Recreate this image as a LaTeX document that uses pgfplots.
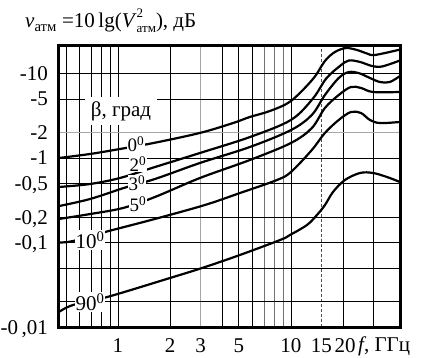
\documentclass[border=0pt]{standalone}
\usepackage{fontspec}
\setmainfont{Liberation Serif}
\usepackage{pgfplots}
\pgfplotsset{compat=1.18}
\begin{document}
\fontsize{21}{24}\selectfont
\begin{tikzpicture}
\begin{axis}[
  at={(0,0)}, anchor=south west,
  scale only axis, width=341pt, height=281pt,
  xmode=log, ymode=log,
  xmin=0.456, xmax=42.7, ymin=0.01, ymax=21.15,
  axis line style={line width=3pt},
  axis on top,
  tick style={draw=none},
  xtick={1,2,3,5,10,15,20}, xticklabels={1,2,3,5,10,{15\hspace{3pt}},{\hspace{4pt}20}},
  ytick={0.01,0.1,0.2,0.5,1,2,5,10},
  yticklabels={{-0\,,01},{-0,1},{-0,2},{-0,5},{-1},{-2},{-5},{-10}},
  xticklabel style={anchor=base, yshift=-25pt, inner sep=0pt},
  yticklabel style={anchor=base east, xshift=-4pt, yshift=-7pt},
  clip=true,
]
% grid lines
\pgfplotsinvokeforeach{0.5,0.6,0.7,0.8,0.9,1,2,4,5,6,10,20,30}{
  \draw[black, line width=0.8pt] (axis cs:#1,0.01) -- (axis cs:#1,21.15);
}
\pgfplotsinvokeforeach{7,8,9}{
  \draw[black!55, line width=0.8pt] (axis cs:#1,0.01) -- (axis cs:#1,21.15);
}
\draw[black!35, line width=0.8pt] (axis cs:3,0.01) -- (axis cs:3,21.15);
\draw[black!70, line width=0.6pt, dash pattern=on 3pt off 2pt] (axis cs:15,0.01) -- (axis cs:15,21.15);
\pgfplotsinvokeforeach{0.02,0.05,0.1,0.2,0.5,1,5,10}{
  \draw[black, line width=0.8pt] (axis cs:0.456,#1) -- (axis cs:42.7,#1);
}
\draw[black!35, line width=0.8pt] (axis cs:0.456,2) -- (axis cs:42.7,2);

% 0 deg
\addplot[black, line width=2.2pt, smooth, tension=0.55] coordinates {
(0.456,1.0) (0.689,1.115) (1.027,1.278) (1.593,1.50) (2.978,1.98) (4.62,2.59) (5.79,3.06) (7.56,3.60) (10.0,4.73) (13.4,8.61) (15.72,14.06) (17.96,17.96) (20.8,20.0) (24.1,18.97) (27.5,17.25) (30.6,16.56) (42.7,19.2)};
% 2 deg
\addplot[black, line width=2.2pt, smooth, tension=0.55] coordinates {
(0.456,0.454) (0.689,0.492) (1.027,0.580) (1.636,0.782) (2.978,1.146) (5.79,1.77) (10.0,2.82) (13.4,5.06) (16.0,8.73) (19.2,12.27) (21.6,14.25) (25.1,13.68) (29.4,12.27) (33.6,12.1) (42.7,14.25)};
% 3 deg
\addplot[black, line width=2.2pt, smooth, tension=0.55] coordinates {
(0.456,0.270) (0.689,0.327) (1.127,0.454) (1.636,0.564) (2.978,0.873) (5.79,1.35) (10.0,2.14) (13.2,3.23) (15.72,5.57) (18.9,8.85) (21.6,10.4) (24.7,10.1) (28.6,8.85) (32.7,7.93) (37.3,7.93) (42.7,9.34)};
% 5 deg
\addplot[black, line width=2.2pt, smooth, tension=0.55] coordinates {
(0.456,0.190) (0.689,0.217) (1.069,0.256) (1.636,0.3455) (2.978,0.580) (5.79,0.947) (10.0,1.505) (13.2,2.26) (15.72,3.91) (18.9,5.57) (22.2,6.92) (25.4,6.74) (29.8,6.04) (42.7,6.04)};
% 10 deg
\addplot[black, line width=2.2pt, smooth, tension=0.55] coordinates {
(0.456,0.100) (0.549,0.104) (0.841,0.133) (1.636,0.19) (3.184,0.278) (5.07,0.385) (8.30,0.549) (10.0,0.683) (13.2,1.243) (15.72,1.98) (18.9,2.82) (22.2,3.50) (25.4,3.41) (28.6,2.82) (32.7,2.59) (42.7,2.67)};
% 90 deg
\addplot[black, line width=2.2pt, smooth, tension=0.55] coordinates {
(0.456,0.0151) (0.549,0.0182) (0.864,0.0226) (1.998,0.038) (3.06,0.0499) (4.88,0.0692) (8.65,0.107) (9.87,0.1227) (12.37,0.161) (14.13,0.2115) (15.73,0.278) (17.5,0.396) (20.5,0.549) (25.1,0.665) (29.8,0.665) (35.9,0.596) (42.7,0.520)};
\end{axis}
% labels
\tikzset{clab/.style={fill=white, inner sep=0.8pt, text depth=0pt, font=\fontsize{19}{21}\selectfont}}
\node[fill=white, inner xsep=6pt, inner ysep=4pt] at (62pt,216pt) {β, град};
\node[clab] at (77pt,183pt) {0\textsuperscript{0}};
\node[clab] at (79pt,163pt) {2\textsuperscript{0}};
\node[clab] at (78pt,144pt) {3\textsuperscript{0}};
\node[clab] at (79pt,123pt) {5\textsuperscript{0}};
\node[fill=white, inner sep=1pt] at (31pt,87pt) {10\textsuperscript{0}};
\node[fill=white, inner sep=1pt] at (31pt,25pt) {90\textsuperscript{0}};
\node[anchor=base west, inner sep=0pt] at (299pt,-25pt) {\textit{f}, ГГц};
\node[anchor=base west, inner sep=0pt] at (-34pt,299pt) {\textit{v}\textsubscript{атм} =10\,lg(\textit{V}\rlap{\raisebox{0.52em}{\fontsize{13}{14}\selectfont 2}}\raisebox{-0.22em}{\fontsize{13}{14}\selectfont атм}), дБ};
\pgfresetboundingbox
\useasboundingbox (-59pt,-31pt) rectangle (382pt,327pt);
\end{tikzpicture}
\end{document}
